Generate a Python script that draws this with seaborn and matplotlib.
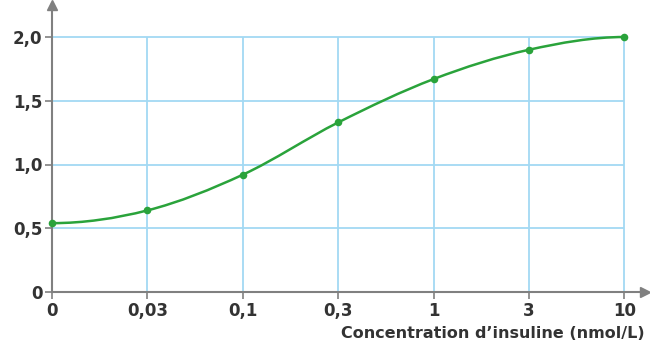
import numpy as np
import pandas as pd
import matplotlib
matplotlib.use("Agg")
import matplotlib.pyplot as plt
import seaborn as sns
from matplotlib.path import Path
from matplotlib.patches import PathPatch

x_labels = ["0", "0,03", "0,1", "0,3", "1", "3", "10"]
y_values = [0.54, 0.64, 0.92, 1.33, 1.67, 1.90, 2.00]
y_ticks = [0, 0.5, 1.0, 1.5, 2.0]
y_tick_labels = ["0", "0,5", "1,0", "1,5", "2,0"]
x_title = "Concentration d\u2019insuline (nmol/L)"

sns.set_style("white")
plt.rcParams["font.family"] = ["DejaVu Sans"]

df = pd.DataFrame({"pos": np.arange(len(x_labels)), "val": y_values})

fig = plt.figure(figsize=(6.5, 3.47), dpi=100)
ax = fig.add_axes([52 / 650, 55 / 347, (645 - 52) / 650, (292 - 5) / 347])

grid_c = "#a3d9f3"
axis_c = "#808080"
green = "#2aa33b"

n = len(x_labels)
ax.vlines(np.arange(1, n), 0, 2.0, color=grid_c, lw=1.3, zorder=1)
ax.hlines(y_ticks[1:], 0, n - 1, color=grid_c, lw=1.3, zorder=1)

# smooth curve (cubic Hermite as Bezier) through the data points, flat ends
px = df["pos"].to_numpy(dtype=float)
py = df["val"].to_numpy(dtype=float)
m = np.zeros(n)
m[1:-1] = (py[2:] - py[:-2]) / (px[2:] - px[:-2])
verts = [(px[0], py[0])]
codes = [Path.MOVETO]
for i in range(n - 1):
    h = px[i + 1] - px[i]
    c1 = (px[i] + h / 3, py[i] + m[i] * h / 3)
    c2 = (px[i + 1] - h / 3, py[i + 1] - m[i + 1] * h / 3)
    verts += [c1, c2, (px[i + 1], py[i + 1])]
    codes += [Path.CURVE4] * 3
ax.add_patch(PathPatch(Path(verts, codes), fill=False, edgecolor=green, lw=1.8, zorder=3))

sns.scatterplot(data=df, x="pos", y="val", ax=ax, color=green, s=30,
                edgecolor=green, linewidth=0, zorder=4, clip_on=False)

ax.set_xlim(0, (645 - 52) / 95.4)
ax.set_ylim(0, (292 - 5) / 127.5)

for s in ["top", "right"]:
    ax.spines[s].set_visible(False)
for s in ["left", "bottom"]:
    ax.spines[s].set_color(axis_c)
    ax.spines[s].set_linewidth(1.5)

ax.plot(1, 0, ">", transform=ax.get_yaxis_transform(), clip_on=False,
        color=axis_c, markersize=7)
ax.plot(0, 1, "^", transform=ax.get_xaxis_transform(), clip_on=False,
        color=axis_c, markersize=7)

ax.set_xticks(np.arange(n))
ax.set_xticklabels(x_labels)
ax.set_yticks(y_ticks)
ax.set_yticklabels(y_tick_labels)
ax.tick_params(axis="both", which="major", length=5, width=1.2, color=axis_c,
               labelsize=12, labelcolor="#333333", direction="out", pad=2,
               bottom=True, left=True)
for lab in ax.get_xticklabels() + ax.get_yticklabels():
    lab.set_fontweight("bold")

ax.set_xlabel("")
ax.set_ylabel("")
fig.text(645 / 650, 1 - 333 / 347, x_title, ha="right", va="center",
         fontsize=11.5, fontweight="bold", color="#333333")

fig.savefig("out.png", dpi=100)
